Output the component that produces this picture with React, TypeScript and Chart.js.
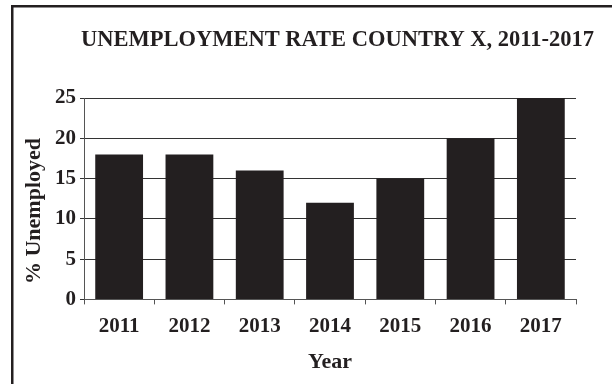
import React, { useEffect, useRef } from "react";
import { Chart, registerables } from "chart.js";

Chart.register(...registerables);

const years = ["2011", "2012", "2013", "2014", "2015", "2016", "2017"];
const unemployed = [18, 18, 16, 12, 15, 20, 25];
const titleText = "UNEMPLOYMENT RATE COUNTRY X, 2011-2017";
const yTitle = "% Unemployed";
const xTitle = "Year";

const INK = "#231f20";
const FONT = "'Liberation Serif', 'Times New Roman', serif";

const framePlugin = {
  id: "frame",
  beforeDraw(chart: any) {
    const ctx = chart.ctx;
    ctx.save();
    ctx.fillStyle = "#ffffff";
    ctx.fillRect(0, 0, chart.width, chart.height);
    ctx.fillStyle = INK;
    ctx.fillRect(11, 5, 2.5, chart.height - 5);
    ctx.fillRect(11, 5, chart.width - 11, 2.5);
    ctx.restore();
  },
  afterDraw(chart: any) {
    const ctx = chart.ctx;
    ctx.save();
    ctx.fillStyle = INK;
    ctx.textAlign = "center";
    ctx.textBaseline = "middle";
    ctx.font = `bold 22.5px ${FONT}`;
    ctx.fillText(titleText, 337.5, 40);
    ctx.translate(34, 211);
    ctx.rotate(-Math.PI / 2);
    ctx.font = `bold 22px ${FONT}`;
    ctx.fillText(yTitle, 0, 0);
    ctx.restore();
  },
};

export default function App() {
  const ref = useRef<HTMLCanvasElement | null>(null);
  useEffect(() => {
    if (!ref.current) return;
    const chart = new Chart(ref.current, {
      type: "bar",
      data: {
        labels: years,
        datasets: [
          {
            data: unemployed,
            backgroundColor: INK,
            borderWidth: 0,
            barPercentage: 0.68,
            categoryPercentage: 1,
          },
        ],
      },
      options: {
        animation: false,
        responsive: false,
        layout: { padding: { left: 51, right: 36, top: 98, bottom: 8 } },
        plugins: {
          legend: { display: false },
          tooltip: { enabled: false },
          title: { display: false },
        },
        scales: {
          x: {
            grid: {
              display: true,
              drawOnChartArea: false,
              drawTicks: true,
              tickLength: 5,
              color: "#555",
              offset: true,
            },
            border: { display: true, color: "#555", width: 1 },
            ticks: {
              color: INK,
              font: { family: FONT, size: 21, weight: "bold" },
              padding: 10,
              maxRotation: 0,
            },
            title: {
              display: true,
              text: xTitle,
              color: INK,
              font: { family: FONT, size: 22, weight: "bold" },
              padding: { top: 0, bottom: 0 },
            },
          },
          y: {
            min: 0,
            max: 25,
            grid: {
              color: "#333",
              lineWidth: 1,
              drawTicks: true,
              tickLength: 4,
            },
            border: { display: true, color: "#555", width: 1 },
            ticks: {
              stepSize: 5,
              color: INK,
              font: { family: FONT, size: 21, weight: "bold" },
              padding: 4,
            },
          },
        },
      },
      plugins: [framePlugin],
    });
    return () => chart.destroy();
  }, []);
  return (
    <div style={{ position: "absolute", left: 0, top: 0, width: 612, height: 384 }}>
      <canvas ref={ref} width={612} height={384} style={{ display: "block" }} />
    </div>
  );
}
